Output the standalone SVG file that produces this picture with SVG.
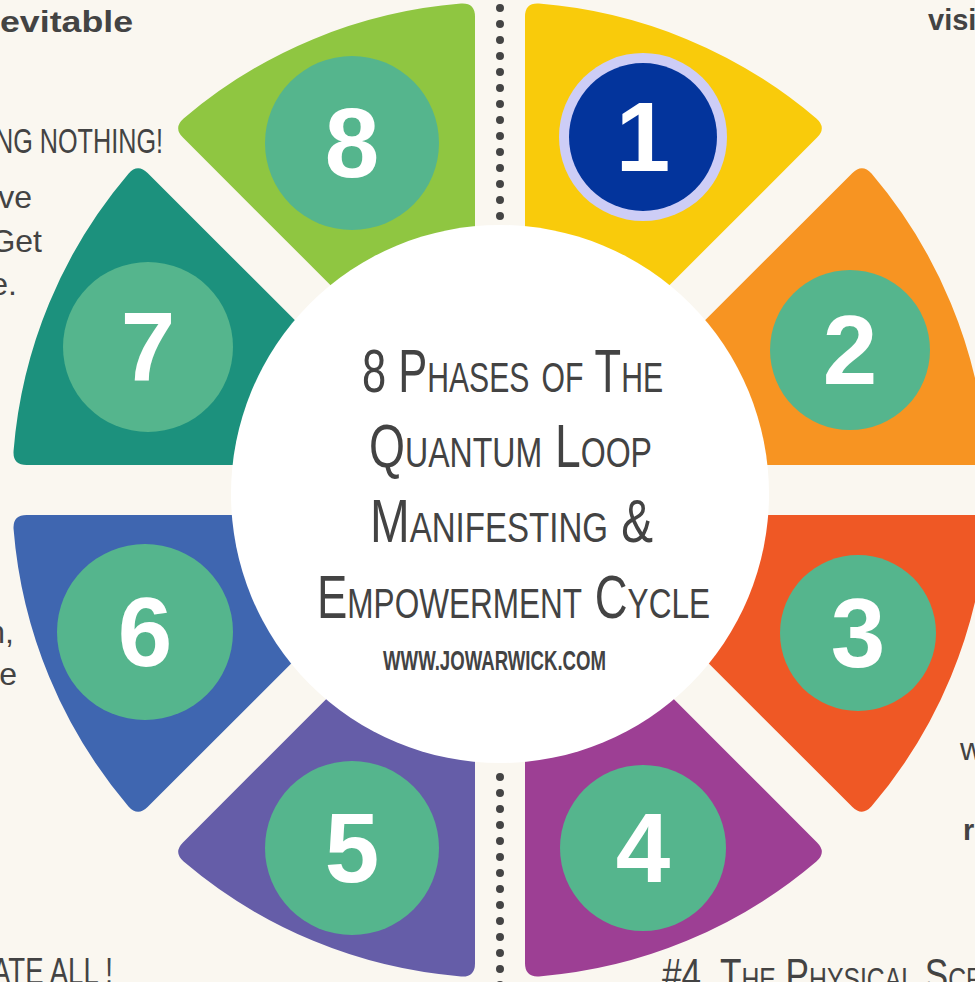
<svg xmlns="http://www.w3.org/2000/svg" xmlns:xlink="http://www.w3.org/1999/xlink" width="975" height="982" viewBox="0 0 975 982">
<style>
.num{font-family:"Liberation Sans",Arial,sans-serif;font-weight:bold;font-size:98px;fill:#ffffff;text-anchor:middle}
.badge{fill:#55b58d}
.title{font-family:"Liberation Sans Narrow","Liberation Sans",sans-serif;font-variant:small-caps;fill:#434343;font-size:62px}
.cond{font-family:"Liberation Sans Narrow","Liberation Sans",sans-serif;font-variant:small-caps;fill:#434343}
.body{font-family:"Liberation Sans",Arial,sans-serif;fill:#434343;font-size:32px}
.bold{font-family:"Liberation Sans",Arial,sans-serif;fill:#434343;font-weight:bold;font-size:29px}
.dots{stroke:#444444;stroke-width:8;stroke-linecap:round;stroke-dasharray:0 16;fill:none}
</style>
<defs>
<path id="seg" d="M525,429.64 L525,16.6 Q525,2.64 538.98,3.56 A488,488 0 0 1 816.37,118.45 Q826.94,127.7 817.04,137.6 Z"/>
</defs>
<rect x="0" y="0" width="975" height="982" fill="#faf7f0"/>

<g id="connectors">
<line class="dots" x1="500" y1="8" x2="500" y2="220"/>
<line class="dots" x1="500" y1="777" x2="500" y2="995"/>
</g>

<g id="phase1">
<use xlink:href="#seg" href="#seg" fill="#f9cb0b"/>
<circle cx="643" cy="137" r="84" fill="#cdcdf6"/>
<circle cx="643" cy="137" r="74" fill="#03349c"/>
<text class="num" x="643" y="171">1</text>
</g>
<g id="phase2">
<use xlink:href="#seg" href="#seg" fill="#f79422" transform="rotate(45 500 490)"/>
<circle class="badge" cx="850" cy="350" r="80"/>
<text class="num" x="850" y="384">2</text>
</g>
<g id="phase3">
<use xlink:href="#seg" href="#seg" fill="#ef5825" transform="rotate(90 500 490)"/>
<circle class="badge" cx="858" cy="633" r="78"/>
<text class="num" x="858" y="667">3</text>
</g>
<g id="phase4">
<use xlink:href="#seg" href="#seg" fill="#9d3f94" transform="rotate(135 500 490)"/>
<circle class="badge" cx="643" cy="848" r="83"/>
<text class="num" x="643" y="882">4</text>
</g>
<g id="phase5">
<use xlink:href="#seg" href="#seg" fill="#655da8" transform="rotate(180 500 490)"/>
<circle class="badge" cx="352" cy="848" r="87"/>
<text class="num" x="352" y="882">5</text>
</g>
<g id="phase6">
<use xlink:href="#seg" href="#seg" fill="#3f66b0" transform="rotate(225 500 490)"/>
<circle class="badge" cx="145" cy="632" r="88"/>
<text class="num" x="145" y="666">6</text>
</g>
<g id="phase7">
<use xlink:href="#seg" href="#seg" fill="#1c917d" transform="rotate(270 500 490)"/>
<circle class="badge" cx="148" cy="347" r="85"/>
<text class="num" x="148" y="381">7</text>
</g>
<g id="phase8">
<use xlink:href="#seg" href="#seg" fill="#8fc641" transform="rotate(315 500 490)"/>
<circle class="badge" cx="352" cy="143" r="87"/>
<text class="num" x="352" y="177">8</text>
</g>

<g id="center">
<circle cx="500" cy="494" r="269" fill="#ffffff"/>
<text class="title" x="362" y="392" textLength="301" lengthAdjust="spacingAndGlyphs">8 Phases of The</text>
<text class="title" x="369" y="467" textLength="283" lengthAdjust="spacingAndGlyphs">Quantum Loop</text>
<text class="title" x="370" y="542" textLength="283" lengthAdjust="spacingAndGlyphs">Manifesting &amp;</text>
<text class="title" x="317" y="618" textLength="393" lengthAdjust="spacingAndGlyphs">Empowerment Cycle</text>
<text class="cond" x="383" y="670" font-size="27" font-weight="bold" textLength="223" lengthAdjust="spacingAndGlyphs">WWW.JOWARWICK.COM</text>
</g>

<g id="edge-texts">
<text class="bold" x="0" y="32" textLength="133" lengthAdjust="spacingAndGlyphs">evitable</text>
<text class="bold" x="928" y="30">visi</text>
<text class="cond" x="-5" y="153" font-size="35" textLength="168" lengthAdjust="spacingAndGlyphs">NG NOTHING!</text>
<text class="body" x="32" y="208" text-anchor="end">ve</text>
<text class="body" x="42" y="252" text-anchor="end">Get</text>
<text class="body" x="17" y="295" text-anchor="end">e.</text>
<text class="body" x="14" y="643" text-anchor="end">n,</text>
<text class="body" x="17" y="685" text-anchor="end">e</text>
<text class="body" x="960" y="760">w</text>
<text class="bold" x="963" y="840" font-size="32">r</text>
<text class="cond" x="-8" y="984" font-size="36" textLength="121" lengthAdjust="spacingAndGlyphs">ATE ALL !</text>
<text class="cond" x="662" y="990" font-size="44" textLength="322" lengthAdjust="spacingAndGlyphs">#4.  The Physical Scr</text>
</g>
</svg>
